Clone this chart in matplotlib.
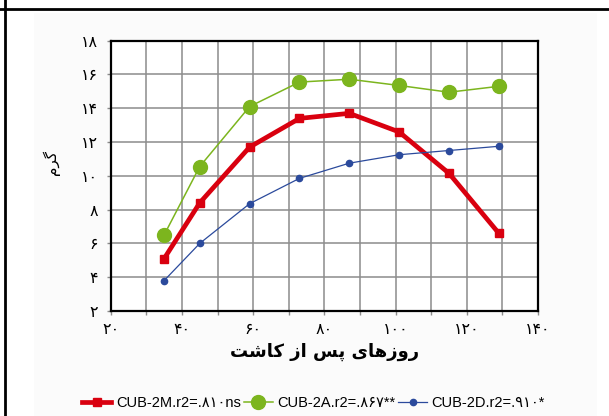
import matplotlib
matplotlib.use("Agg")
import matplotlib.pyplot as plt
from matplotlib.patches import Rectangle
from matplotlib.lines import Line2D

# days after planting
days = [35, 45, 59, 73, 87, 101, 115, 129]
cub_2m = [5.1, 8.4, 11.7, 13.4, 13.7, 12.6, 10.15, 6.6]
cub_2a = [6.5, 10.55, 14.1, 15.55, 15.72, 15.35, 14.95, 15.3]
cub_2d = [3.8, 6.0, 8.35, 9.85, 10.75, 11.25, 11.5, 11.75]

series_labels = [
    "CUB-2M.r2=.\u06F8\u06F1\u06F0ns",
    "CUB-2A.r2=.\u06F8\u06F6\u06F7**",
    "CUB-2D.r2=.\u06F9\u06F1\u06F0*",
]

fa_digits = str.maketrans("0123456789", "\u06F0\u06F1\u06F2\u06F3\u06F4\u06F5\u06F6\u06F7\u06F8\u06F9")
x_ticks = list(range(20, 141, 20))
y_ticks = list(range(2, 19, 2))

# Persian text already shaped and in visual (left-to-right) order
x_title = "\uFE96\uFEB7\uFE8E\uFB90 \uFEAF\uFE8D \uFEB2\uFB58 \uFBFC\uFE8E\uFEEB\uFEAF\uFEED\uFEAD"
y_title = "\uFEE1\uFEAE\uFB94"

fa_font = ["DejaVu Sans"]
latin_font = ["Liberation Sans", "DejaVu Sans"]

red = "#d9000f"
green = "#7cb51e"
blue = "#2b4a9c"

fig = plt.figure(figsize=(6.09, 4.16), dpi=100)

# page decorations: table cell borders and light chart panel
fig.patches.append(Rectangle((34 / 609, 0), (597 - 34) / 609, 1 - 13 / 416,
                             transform=fig.transFigure, facecolor="#fbfbfb", edgecolor="none", zorder=-5))
fig.add_artist(Line2D([0, 1], [1 - 9 / 416] * 2, transform=fig.transFigure, color="black", lw=2))
fig.add_artist(Line2D([5 / 609] * 2, [0, 1], transform=fig.transFigure, color="black", lw=2))

ax = fig.add_axes([110.7 / 609, 1 - 311 / 416, (538 - 110.7) / 609, (311 - 40.7) / 416])
ax.set_facecolor("white")

ax.plot(days, cub_2m, color=red, lw=3.4, marker="s", ms=5.5, zorder=3)
ax.plot(days, cub_2a, color=green, lw=1.1, marker="o", ms=10, zorder=3)
ax.plot(days, cub_2d, color=blue, lw=0.9, marker="o", ms=4.5, zorder=3)

ax.set_xlim(20, 140)
ax.set_ylim(2, 18)
ax.set_xticks(range(20, 141, 10))
ax.set_xticklabels([str(v).translate(fa_digits) if v in x_ticks else "" for v in range(20, 141, 10)],
                   family=fa_font, fontsize=11.5)
ax.set_yticks(y_ticks)
ax.set_yticklabels([str(v).translate(fa_digits) for v in y_ticks], family=fa_font, fontsize=11.5)
ax.tick_params(axis="x", direction="out", length=3, width=1, color="#8c8c8c", pad=5)
ax.tick_params(axis="y", direction="out", length=3, width=1, color="#8c8c8c", pad=6)
ax.grid(True, color="#8c8c8c", lw=1.1)
ax.set_axisbelow(True)
for sp in ax.spines.values():
    sp.set_color("black")
    sp.set_linewidth(1.6)

ax.set_xlabel(x_title, family=fa_font, fontsize=13, fontweight="bold", labelpad=4)
ax.set_ylabel(y_title, family=fa_font, fontsize=11)
ax.yaxis.set_label_coords(-0.119, 0.548)

handles = [
    Line2D([], [], color=red, lw=3.4, marker="s", ms=5.5),
    Line2D([], [], color=green, lw=1.1, marker="o", ms=10),
    Line2D([], [], color=blue, lw=0.9, marker="o", ms=4.5),
]
fig.legend(handles, series_labels, loc="center", bbox_to_anchor=(0.515, 13 / 416), ncol=3,
           frameon=False, prop={"family": latin_font, "size": 10.5},
           handlelength=2.0, handletextpad=0.3, columnspacing=0.2)

fig.savefig("out.png", dpi=100)
